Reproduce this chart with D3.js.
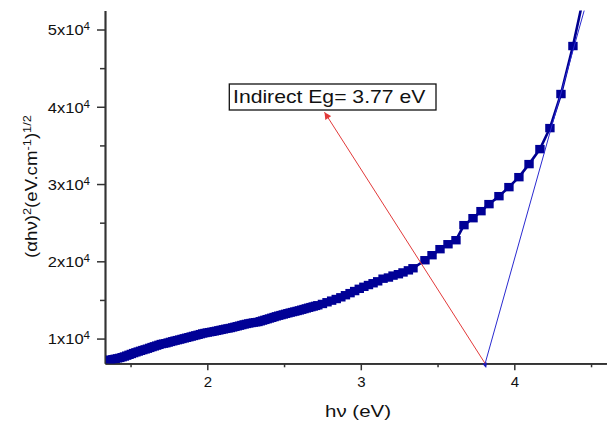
<!DOCTYPE html>
<html><head><meta charset="utf-8">
<script src="https://cdn.jsdelivr.net/npm/d3@7"></script>
<style>body{margin:0;background:#fff}svg{display:block}</style>
</head><body><svg id="c" width="607" height="426"></svg>
<script>
// ---- data ----
const hv = [1.37,1.385,1.40,1.415,1.43,1.445,1.46,1.475,1.49,1.505,1.52,1.535,1.55,1.565,1.58,1.595,1.61,1.625,1.64,1.655,
  1.67,1.685,1.70,1.715,1.73,1.745,1.76,1.775,1.79,1.805,1.82,1.835,1.85,1.865,1.88,1.895,1.91,1.925,1.94,1.955,1.97,1.985,
  2.00,2.015,2.03,2.045,2.06,2.075,2.09,2.105,2.12,2.135,2.15,2.165,2.18,2.195,2.21,2.225,2.24,2.255,2.27,2.285,2.30,2.315,
  2.33,2.345,2.36,2.375,2.39,2.405,2.42,2.435,2.45,2.465,2.48,2.495,2.51,2.525,2.54,2.555,2.57,2.585,2.60,2.615,2.63,2.645,
  2.66,2.675,2.69,2.705,2.72,
  2.75,2.78,2.81,2.84,2.87,2.90,2.93,2.96,2.99,3.02,3.05,3.08,3.11,3.145,3.18,3.21,3.245,3.275,3.31,3.34,
  3.418,3.464,3.516,3.568,3.62,3.672,3.731,3.783,3.835,3.90,3.965,
  4.03,4.096,4.167,4.232,4.304,4.382,4.46];
const ahv = [7270,7325,7380,7440,7500,7590,7680,7790,7900,8010,8120,8220,8320,8415,8510,8600,8690,8795,8900,8995,
  9090,9190,9290,9345,9400,9485,9570,9650,9730,9800,9870,9950,10030,10105,10180,10260,10340,10415,10490,10575,10660,10720,
  10780,10830,10880,10940,11000,11065,11130,11195,11260,11315,11370,11445,11520,11595,11670,11750,11830,11895,11960,12015,12070,12110,
  12150,12240,12330,12420,12510,12600,12690,12785,12880,12960,13040,13120,13200,13280,13360,13430,13500,13575,13650,13735,13820,13905,
  13990,14070,14150,14230,14310,
  14480,14700,14910,15120,15340,15610,15880,16150,16440,16700,16930,17160,17410,17750,17900,18150,18330,18560,18830,19100,
  20140,20790,21570,22210,22730,24680,25580,26490,27400,28430,29600,
  30890,32580,34520,37240,41650,47860,55000];
const xTicks = [2, 3, 4];
const xMinor = [1.5, 2.5, 3.5, 4.5];
const yTicks = [10000, 20000, 30000, 40000, 50000];
const yMinor = [15000, 25000, 35000, 45000];
const tangentBottom = [3.809, 6700];
const tangentTop = [4.456, 52500];
const arrowStart = [3.809, 6800];
const arrowTip = [2.7635, 39300];
const labelText = "Indirect Eg= 3.77 eV";
const xTitle = "hν (eV)";

// ---- chart ----
const FONT = "'Liberation Sans', Arial, sans-serif";
const svg = d3.select("#c");
const x = d3.scaleLinear().domain([1.3335, 4.6]).range([105, 606.4]);
const y = d3.scaleLinear().domain([6800, 52460]).range([363.3, 10.5]);

const defs = svg.append("defs");
defs.append("clipPath").attr("id", "clip")
  .append("rect").attr("x", 105).attr("y", 10.5).attr("width", 502).attr("height", 353);
defs.append("marker").attr("id", "ared").attr("viewBox", "0 0 10 10").attr("refX", 10).attr("refY", 5)
  .attr("markerWidth", 9).attr("markerHeight", 7).attr("markerUnits", "userSpaceOnUse").attr("orient", "auto")
  .append("path").attr("d", "M0,0L10,5L0,10z").attr("fill", "#e23a3a");
defs.append("marker").attr("id", "ablue").attr("viewBox", "0 0 10 10").attr("refX", 2).attr("refY", 5)
  .attr("markerWidth", 8).attr("markerHeight", 5).attr("markerUnits", "userSpaceOnUse").attr("orient", "auto")
  .append("path").attr("d", "M0,0L10,5L0,10z").attr("fill", "#1a1ab8");

// axes
const gx = svg.append("g").attr("transform", "translate(0,363.3)");
gx.call(d3.axisBottom(x).tickValues(xMinor).tickSize(4).tickFormat("").tickSizeOuter(0));
const gx2 = svg.append("g").attr("transform", "translate(0,363.3)");
gx2.call(d3.axisBottom(x).tickValues(xTicks).tickSize(7).tickPadding(6).tickSizeOuter(0).tickFormat(d3.format("d")));
const gy = svg.append("g").attr("transform", "translate(105,0)");
gy.call(d3.axisLeft(y).tickValues(yMinor).tickSize(5).tickFormat("").tickSizeOuter(0));
const gy2 = svg.append("g").attr("transform", "translate(105,0)");
gy2.call(d3.axisLeft(y).tickValues(yTicks).tickSize(8).tickSizeOuter(0).tickFormat(""));
[gx, gx2, gy, gy2].forEach(g => {
  g.selectAll("path.domain").attr("stroke", "#333").attr("stroke-width", 1.7);
  g.selectAll("line").attr("stroke", "#333").attr("stroke-width", 1.5);
});
gx2.selectAll("text").attr("font-family", FONT).attr("font-size", 15).attr("fill", "#111");
gy2.selectAll(".tick").each(function (d) {
  const t = d3.select(this).append("text").attr("font-family", FONT).attr("font-size", 15)
    .attr("fill", "#111").attr("text-anchor", "end").attr("dy", "0.36em")
    .attr("transform", "translate(-15,0) scale(1.1,1)");
  t.append("tspan").text(Math.round(d / 10000) + "x10");
  t.append("tspan").attr("font-size", 10.5).attr("dy", -5).text("4");
});

// data
const plot = svg.append("g").attr("clip-path", "url(#clip)");
const pts = hv.map((v, i) => [v, ahv[i]]);
plot.append("path").datum(pts).attr("fill", "none").attr("stroke", "#000090").attr("stroke-width", 2.6)
  .attr("d", d3.line().x(d => x(d[0])).y(d => y(d[1])));
plot.selectAll("rect.m").data(pts).join("rect").attr("class", "m")
  .attr("x", d => x(d[0]) - 4.7).attr("y", d => y(d[1]) - 4.2)
  .attr("width", 9.4).attr("height", 8.4).attr("fill", "#000096");

// tangent line (blue, thin) with arrow at bottom
svg.append("line").attr("clip-path", "url(#clip)")
  .attr("x1", x(tangentTop[0])).attr("y1", y(tangentTop[1]))
  .attr("x2", x(tangentBottom[0])).attr("y2", y(tangentBottom[1]))
  .attr("stroke", "#2a2ad0").attr("stroke-width", 1);
svg.append("line")
  .attr("x1", x(tangentBottom[0]) - 0.3).attr("y1", y(tangentBottom[1]) - 1)
  .attr("x2", x(tangentBottom[0])).attr("y2", y(tangentBottom[1]))
  .attr("stroke", "#1a1ab8").attr("stroke-width", 1).attr("marker-end", "url(#ablue)");

// red arrow
svg.append("line")
  .attr("x1", x(arrowStart[0])).attr("y1", y(arrowStart[1]))
  .attr("x2", x(arrowTip[0])).attr("y2", y(arrowTip[1]))
  .attr("stroke", "#e23a3a").attr("stroke-width", 1).attr("marker-end", "url(#ared)");

// label box
svg.append("rect").attr("x", 229.3).attr("y", 84).attr("width", 206.7).attr("height", 26)
  .attr("fill", "#fff").attr("stroke", "#111").attr("stroke-width", 1.3);
const lt = svg.append("text").attr("font-family", FONT).attr("font-size", 17.5).attr("fill", "#111")
  .attr("x", 0).attr("y", 0).text(labelText);
const ltw = lt.node().getComputedTextLength();
lt.attr("transform", `translate(233,103.3) scale(${192.5 / ltw},1)`);

// x title
const xt = svg.append("text").attr("font-family", FONT).attr("font-size", 16).attr("fill", "#111")
  .attr("text-anchor", "middle").text(xTitle);
const xtw = xt.node().getComputedTextLength();
xt.attr("transform", `translate(358,416.5) scale(${66 / xtw},1)`);

// y title
const yt = svg.append("text").attr("font-family", FONT).attr("font-size", 16).attr("fill", "#111")
  .attr("text-anchor", "middle");
yt.append("tspan").text("(αhν)");
yt.append("tspan").attr("font-size", 11).attr("dy", -6).text("2");
yt.append("tspan").attr("dy", 6).text("(eV.cm");
yt.append("tspan").attr("font-size", 11).attr("dy", -6).text("-1");
yt.append("tspan").attr("dy", 6).text(")");
yt.append("tspan").attr("font-size", 11).attr("dy", -6).text("1/2");
const ytw = yt.node().getComputedTextLength();
yt.attr("transform", `translate(36.5,186.5) rotate(-90) scale(${143 / ytw},1)`);
</script></body></html>
